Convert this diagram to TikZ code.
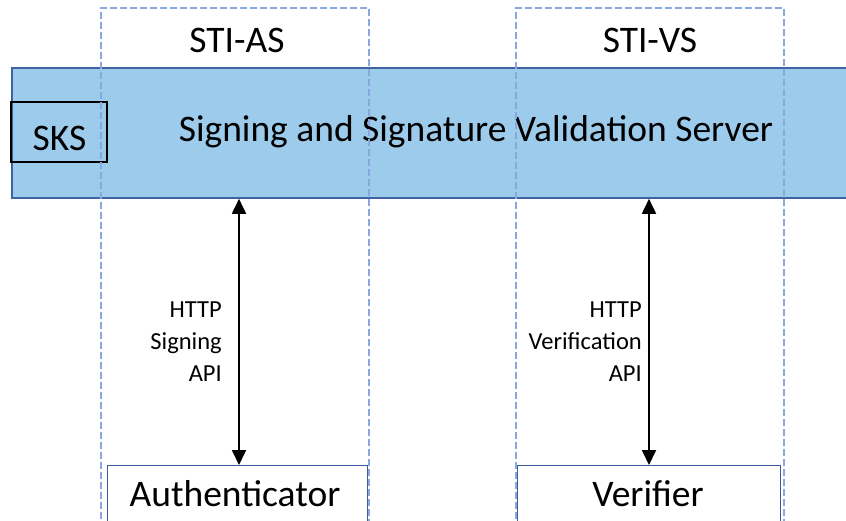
\documentclass[tikz,border=0pt]{standalone}
\usepackage{fontspec}
\setmainfont{Carlito}
\usetikzlibrary{arrows.meta}
\definecolor{bandfill}{HTML}{9DCBEB}
\definecolor{bandline}{HTML}{3F63A3}
\definecolor{dashblue}{HTML}{8AA8DE}
\definecolor{boxline}{HTML}{3A5C9C}
\begin{document}
\begin{tikzpicture}[x=1pt,y=-1pt,
  bigtext/.style={font=\fontsize{37.5}{44}\selectfont, inner sep=0pt},
  smalltext/.style={font=\fontsize{24.5}{32}\selectfont, align=right, inner sep=0pt},
  zonebox/.style={draw=dashblue, line width=1.7pt, dash pattern=on 7pt off 3pt, inner sep=0pt, anchor=north west},
  actorbox/.style={draw=boxline, line width=1.4pt, fill=white, inner sep=0pt, anchor=north west},
  arr/.style={line width=1.8pt, {Triangle[width=14pt,length=15pt]}-{Triangle[width=14pt,length=15pt]}}
]
\useasboundingbox (0,0) rectangle (846,520);
\clip (0,0) rectangle (846,520);
\fill[white] (0,0) rectangle (846,520);
% server band
\node[draw=bandline, line width=1.8pt, fill=bandfill, inner sep=0pt, anchor=north west,
      minimum width=860pt, minimum height=130pt] (band) at (11,67) {};
\node[bigtext] (title) at (476,132) {Signing and Signature Validation Server};
\node[draw=black, line width=1.4pt, inner sep=0pt, minimum width=96pt, minimum height=60pt] (sks) at (59,132) {};
\node[bigtext, anchor=base] (skstext) at (59.5,150) {SKS};
% zones
\node[zonebox, minimum width=268pt, minimum height=540pt] (aszone) at (100,7) {};
\node[zonebox, minimum width=268pt, minimum height=540pt] (vszone) at (515,7) {};
\node[bigtext, anchor=base] (aslabel) at (237,52) {STI-AS};
\node[bigtext, anchor=base] (vslabel) at (650,52) {STI-VS};
% actors
\node[actorbox, minimum width=260pt, minimum height=80pt] (auth) at (107,465) {};
\node[bigtext, anchor=base] (authtext) at (235,506) {Authenticator};
\node[actorbox, minimum width=263pt, minimum height=80pt] (ver) at (517,465) {};
\node[bigtext, anchor=base] (vertext) at (648,506) {Verifier};
% arrows
\coordinate (asx) at (239,0);
\coordinate (vsx) at (649,0);
\draw[arr] (band.south -| asx) -- (auth.north -| asx);
\draw[arr] (band.south -| vsx) -- (ver.north -| vsx);
\node[smalltext, anchor=north east] (aslab) at (222,302) {HTTP\\Signing\\API};
\node[smalltext, anchor=north east] (vslab) at (642,302) {HTTP\\Verification\\API};
\end{tikzpicture}
\end{document}
